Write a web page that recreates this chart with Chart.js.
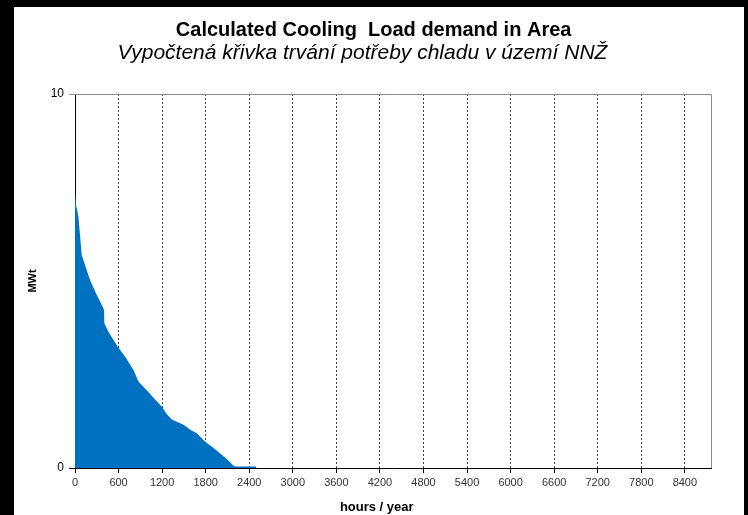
<!DOCTYPE html>
<html>
<head>
<meta charset="utf-8">
<script src="https://cdn.jsdelivr.net/npm/chart.js@4/dist/chart.umd.min.js"></script>
<style>
  html, body { margin: 0; padding: 0; background: #000; }
  #box { position: absolute; left: 14px; top: 7px; width: 730px; height: 508px; background: #fff; }
  canvas { display: block; }
</style>
</head>
<body>
<div id="box"><canvas id="coolingChart" width="730" height="508"></canvas></div>
<script>
// Data
const hours = [0, 14, 46, 69, 92, 138, 207, 299, 391, 400, 404, 460, 589, 700, 805, 874, 1000, 1196, 1260, 1334, 1500, 1586, 1678, 1793, 1900, 2000, 2100, 2184, 2207, 2490, 2500, 8760];
const loadMW = [7.39, 7.03, 6.73, 6.23, 5.70, 5.43, 5.03, 4.63, 4.27, 4.22, 3.87, 3.64, 3.24, 2.95, 2.62, 2.31, 2.05, 1.64, 1.45, 1.30, 1.15, 1.02, 0.93, 0.70, 0.55, 0.39, 0.22, 0.06, 0.04, 0.04, 0, 0];
const xTicks = [0, 600, 1200, 1800, 2400, 3000, 3600, 4200, 4800, 5400, 6000, 6600, 7200, 7800, 8400];
const yTicks = [0, 10];

const FONT = 'Arial, "Liberation Sans", sans-serif';

// Gray frame on top and right of plot area
const framePlugin = {
  id: 'frame',
  afterDatasetsDraw(chart) {
    const { ctx, chartArea: a } = chart;
    ctx.save();
    ctx.strokeStyle = '#8c8c8c';
    ctx.lineWidth = 1;
    ctx.beginPath();
    ctx.moveTo(a.left, a.top + 0.5);
    ctx.lineTo(a.right + 0.5, a.top + 0.5);
    ctx.lineTo(a.right + 0.5, a.bottom);
    ctx.stroke();
    ctx.restore();
  }
};

const ctx = document.getElementById('coolingChart').getContext('2d');
new Chart(ctx, {
  type: 'line',
  data: {
    datasets: [{
      label: 'Cooling load',
      data: hours.map((h, i) => ({ x: h, y: loadMW[i] })),
      backgroundColor: '#0070C0',
      borderColor: '#0070C0',
      borderWidth: 0,
      pointRadius: 0,
      tension: 0,
      fill: 'origin'
    }]
  },
  options: {
    responsive: false,
    animation: false,
    layout: { padding: { left: 0, right: 33, top: 0, bottom: 0 } },
    scales: {
      x: {
        type: 'linear',
        min: 0,
        max: 8760,
        afterBuildTicks: (scale) => { scale.ticks = xTicks.map(v => ({ value: v })); },
        afterFit: (scale) => { scale.height = 47; },
        grid: {
          color: (c) => c.tick && c.tick.value === 0 ? 'rgba(0,0,0,0)' : '#444',
          tickColor: '#000',
          tickLength: 5,
          lineWidth: 1
        },
        border: { color: '#000', width: 1, dash: [2, 2] },
        ticks: {
          color: '#333',
          font: { family: FONT, size: 11 },
          padding: 3,
          maxRotation: 0,
          autoSkip: false,
          callback: (v) => String(v)
        },
        title: {
          display: true,
          // trailing spaces nudge the centred title left like the original
          text: 'hours / year         ',
          color: '#000',
          font: { family: FONT, size: 13, weight: 'bold', lineHeight: 1.1 },
          padding: { top: 14, bottom: 0 }
        }
      },
      y: {
        min: 0,
        max: 10,
        afterBuildTicks: (scale) => { scale.ticks = yTicks.map(v => ({ value: v })); },
        afterFit: (scale) => { scale.width = 61; },
        grid: {
          color: (c) => c.tick && c.tick.value === 10 ? '#8c8c8c' : 'rgba(0,0,0,0)',
          tickColor: (c) => c.tick && c.tick.value === 10 ? '#8c8c8c' : '#000',
          tickLength: 6
        },
        border: { color: '#000', width: 1 },
        ticks: {
          color: '#000',
          font: { family: FONT, size: 12 },
          padding: 5
        },
        title: {
          display: true,
          text: 'MWt',
          color: '#000',
          font: { family: FONT, size: 11, weight: 'bold' },
          padding: { top: 12, bottom: 0 }
        }
      }
    },
    plugins: {
      legend: { display: false },
      tooltip: { enabled: false },
      title: {
        display: true,
        text: '    Calculated Cooling  Load demand in Area',
        color: '#000',
        font: { family: FONT, size: 20, weight: 'bold' },
        padding: { top: 11, bottom: 1 }
      },
      subtitle: {
        display: true,
        text: 'Vypočtená křivka trvání potřeby chladu v území NNŽ',
        color: '#000',
        font: { family: FONT, size: 21, style: 'italic', weight: 'normal', lineHeight: 1.0 },
        padding: { top: 0, bottom: 30 }
      }
    }
  },
  plugins: [framePlugin]
});
</script>
</body>
</html>
